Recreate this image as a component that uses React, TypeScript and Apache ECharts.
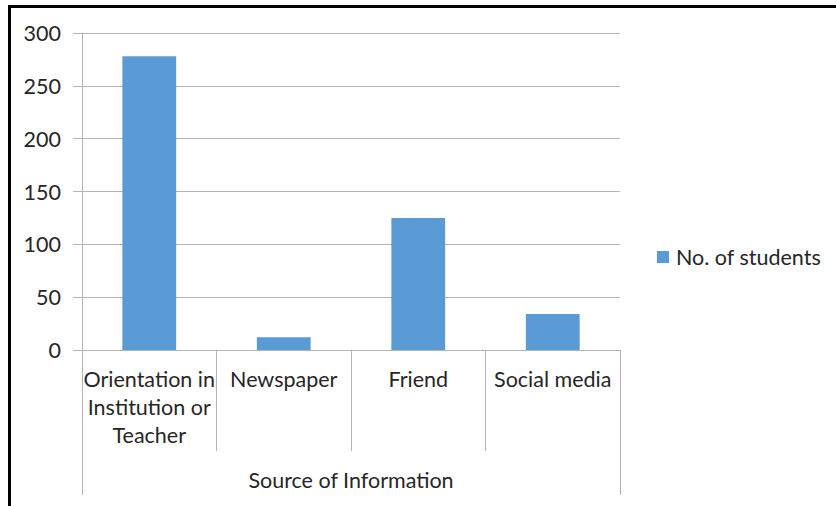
import React, { useEffect, useRef } from "react";
import * as echarts from "echarts";

const categories = ["Orientation in\nInstitution or\nTeacher", "Newspaper", "Friend", "Social media"];
const studentCounts = [278, 12, 125, 34];
const groupLabel = ["Source of Information"];
const seriesName = "No. of students";

const FONT = "Lato";
const FS = 21.5;
const TEXT = "#262626";
const GRID = "#B4B4B4";

export default function App() {
  const ref = useRef<HTMLDivElement>(null);
  useEffect(() => {
    document.body.style.margin = "0";
    const chart = echarts.init(ref.current!, null, { renderer: "svg" });
    chart.setOption({
      animation: false,
      backgroundColor: "#ffffff",
      textStyle: { fontFamily: FONT },
      grid: { left: 82, right: 216, top: 33, bottom: 156 },
      legend: {
        data: [seriesName],
        left: 652,
        top: 241,
        icon: "rect",
        itemWidth: 12,
        itemHeight: 12,
        textStyle: { fontFamily: FONT, fontSize: FS, color: TEXT, lineHeight: 22, padding: [0, 0, 0, 2] },
      },
      xAxis: [
        {
          type: "category",
          data: categories,
          position: "bottom",
          axisLine: { show: true, lineStyle: { color: GRID, width: 1 } },
          axisTick: { show: true, length: 101, interval: 0, lineStyle: { color: GRID } },
          axisLabel: {
            interval: 0,
            margin: 15,
            fontFamily: FONT,
            fontSize: FS,
            lineHeight: 28,
            color: TEXT,
            align: "center",
          },
        },
        {
          type: "category",
          data: groupLabel,
          position: "bottom",
          axisLine: { show: false },
          axisTick: { show: true, length: 145, lineStyle: { color: GRID } },
          axisLabel: {
            margin: 116,
            fontFamily: FONT,
            fontSize: FS,
            lineHeight: 28,
            color: TEXT,
          },
        },
      ],
      yAxis: {
        type: "value",
        min: 0,
        max: 300,
        interval: 50,
        axisLine: { show: true, lineStyle: { color: GRID } },
        axisTick: { show: true, length: 9, lineStyle: { color: GRID } },
        splitLine: { show: true, lineStyle: { color: GRID } },
        axisLabel: { margin: 21, fontFamily: FONT, fontSize: FS, color: TEXT },
      },
      series: [
        {
          name: seriesName,
          type: "bar",
          xAxisIndex: 0,
          data: studentCounts,
          barWidth: "40%",
          itemStyle: { color: "#5B9BD5" },
        },
      ],
      graphic: [
        { type: "line", shape: { x1: 8, y1: 6.5, x2: 836, y2: 6.5 }, style: { stroke: "#000", lineWidth: 3 } },
        { type: "line", shape: { x1: 9.5, y1: 5, x2: 9.5, y2: 506 }, style: { stroke: "#000", lineWidth: 3 } },
      ],
    });
    return () => chart.dispose();
  }, []);
  return <div ref={ref} style={{ width: 836, height: 506 }} />;
}
